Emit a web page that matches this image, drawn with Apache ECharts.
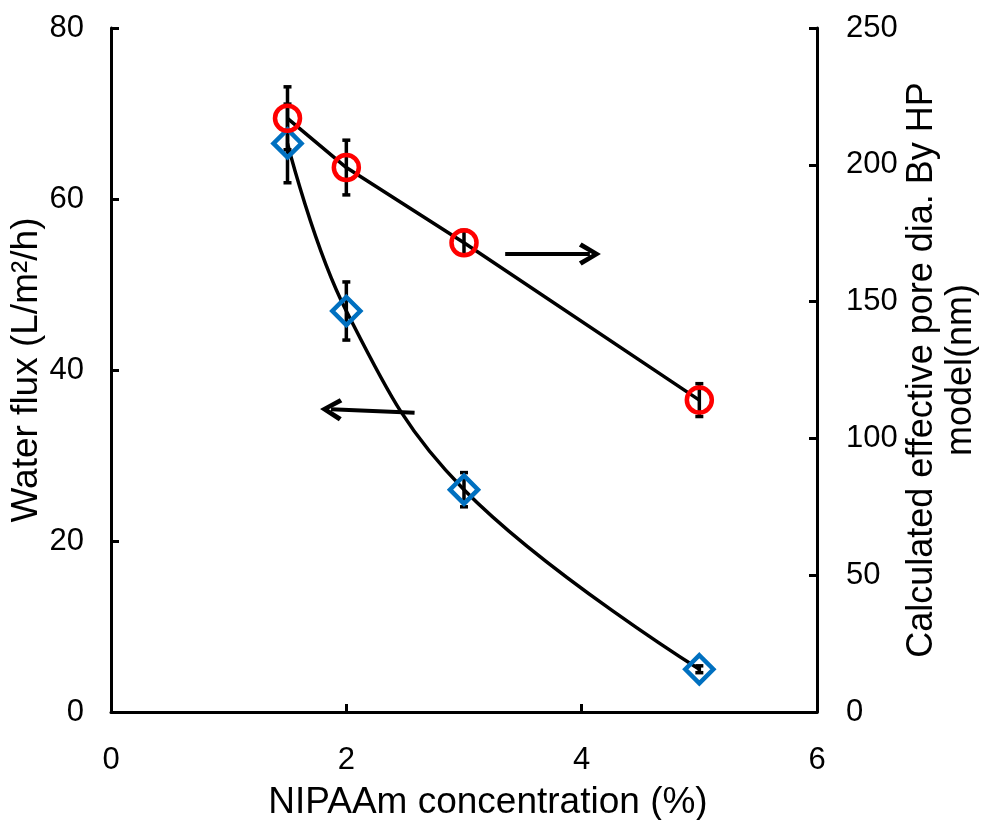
<!DOCTYPE html>
<html><head><meta charset="utf-8">
<script src="https://cdn.jsdelivr.net/npm/echarts@6/dist/echarts.min.js"></script>
<style>html,body{margin:0;padding:0;background:#fff}#c{width:984px;height:820px}</style>
</head><body><div id="c"></div>
<script>
const xVals = [1.5, 2, 3, 5];
const flux = [66.5, 46.9, 26.0, 5.0];
const fluxErr = [4.6, 3.4, 2.0, 0.4];
const pore = [217, 199, 171.5, 114];
const poreErr = [11.5, 10, 4.5, 6];
const xTicks = [0, 2, 4, 6];
const leftTicks = [0, 20, 40, 60, 80];
const rightTicks = [0, 50, 100, 150, 200, 250];
const arrowRight = [[3.35, 167.4], [4.07, 167.4]];
const arrowLeft = [[2.58, 35.0], [1.87, 35.4]];

const FONT = 'Liberation Sans';
const chart = echarts.init(document.getElementById('c'));

function errData(v, e) { return xVals.map((x, i) => [x, v[i] - e[i], v[i] + e[i]]); }
function errRender(params, api) {
  const x = api.value(0);
  const lo = api.coord([x, api.value(1)]);
  const hi = api.coord([x, api.value(2)]);
  const st = { stroke: '#000', lineWidth: 3.5 };
  const w = 4;
  return { type: 'group', children: [
    { type: 'line', shape: { x1: hi[0], y1: hi[1], x2: lo[0], y2: lo[1] }, style: st },
    { type: 'line', shape: { x1: hi[0] - w, y1: hi[1], x2: hi[0] + w, y2: hi[1] }, style: st },
    { type: 'line', shape: { x1: lo[0] - w, y1: lo[1], x2: lo[0] + w, y2: lo[1] }, style: st }
  ]};
}
const arrowHead = 'path://M10,0 L20,17.5 L16.5,20 L10,8 L3.5,20 L0,17.5 Z';
function arrowML(pts) {
  return {
    silent: true, animation: false,
    symbol: ['none', arrowHead], symbolSize: [23, 22],
    label: { show: false },
    lineStyle: { color: '#000', width: 4, type: 'solid' },
    emphasis: { disabled: true },
    data: [[{ coord: pts[0] }, { coord: pts[1] }]]
  };
}
const axisText = { fontFamily: FONT, fontSize: 31, color: '#000' };
chart.setOption({
  animation: false,
  backgroundColor: '#fff',
  grid: { left: 111, right: 167, top: 28, bottom: 108, containLabel: false, outerBoundsMode: 'none' },
  xAxis: {
    type: 'value', min: 0, max: 6, interval: 2,
    name: 'NIPAAm concentration (%)', nameLocation: 'middle', nameGap: 72, nameMoveOverlap: false,
    nameTextStyle: { fontFamily: FONT, fontSize: 37, color: '#000', padding: [0, 0, 0, 48] },
    axisLine: { show: true, onZero: false, lineStyle: { color: '#000', width: 3 } },
    axisTick: { show: true, inside: true, length: 8, lineStyle: { color: '#000', width: 3 } },
    axisLabel: Object.assign({ margin: 33 }, axisText),
    splitLine: { show: false }
  },
  yAxis: [{
    type: 'value', min: 0, max: 80, interval: 20, position: 'left',
    name: 'Water flux (L/m\u00b2/h)', nameLocation: 'middle', nameGap: 66, nameMoveOverlap: false,
    nameTextStyle: { fontFamily: FONT, fontSize: 37, color: '#000' },
    axisLine: { show: true, onZero: false, lineStyle: { color: '#000', width: 3 } },
    axisTick: { show: true, inside: true, length: 8, lineStyle: { color: '#000', width: 3 } },
    axisLabel: Object.assign({ margin: 27 }, axisText),
    splitLine: { show: false }
  }, {
    type: 'value', min: 0, max: 250, interval: 50, position: 'right',
    name: 'Calculated effective pore dia. By HP\nmodel(nm)', nameLocation: 'middle', nameGap: 86, nameMoveOverlap: false,
    nameTextStyle: { fontFamily: FONT, fontSize: 36, color: '#000', lineHeight: 39 },
    axisLine: { show: true, onZero: false, lineStyle: { color: '#000', width: 3 } },
    axisTick: { show: true, inside: true, length: 8, lineStyle: { color: '#000', width: 3 } },
    axisLabel: Object.assign({ margin: 29 }, axisText),
    splitLine: { show: false }
  }],
  series: [
    {
      type: 'line', yAxisIndex: 0, smooth: 0.4,
      data: xVals.map((x, i) => [x, flux[i]]),
      lineStyle: { color: '#000', width: 3.5 },
      symbol: 'diamond', symbolSize: 28,
      itemStyle: { color: 'rgba(0,0,0,0)', borderColor: '#0070C0', borderWidth: 4.5 },
      markLine: arrowML(arrowLeft), z: 4
    },
    {
      type: 'line', yAxisIndex: 1, smooth: false,
      data: xVals.map((x, i) => [x, pore[i]]),
      lineStyle: { color: '#000', width: 3.5 },
      symbol: 'circle', symbolSize: 25,
      itemStyle: { color: 'rgba(0,0,0,0)', borderColor: '#FF0000', borderWidth: 4.5 },
      markLine: arrowML(arrowRight), z: 4
    },
    { type: 'custom', yAxisIndex: 0, renderItem: errRender, data: errData(flux, fluxErr), z: 3, silent: true },
    { type: 'custom', yAxisIndex: 1, renderItem: errRender, data: errData(pore, poreErr), z: 3, silent: true }
  ]
});
</script></body></html>
